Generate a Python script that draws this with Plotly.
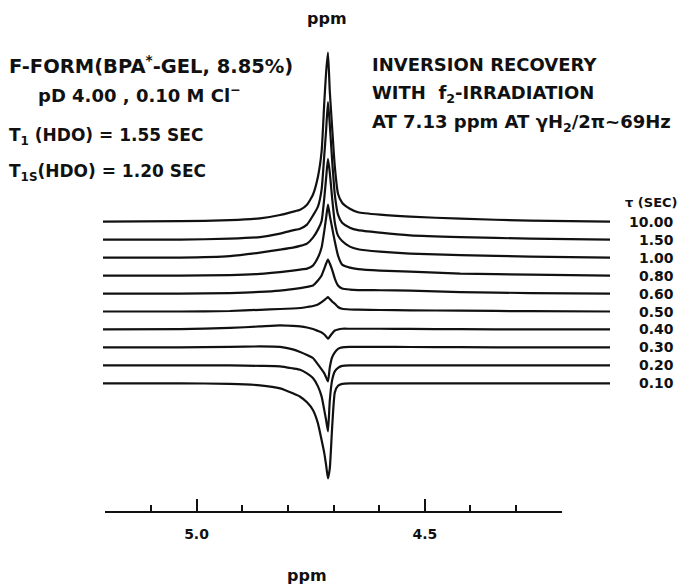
import plotly.graph_objects as go

W, H = 681, 587

# ---------------- data ----------------
tau_labels = ["10.00", "1.50", "1.00", "0.80", "0.60", "0.50", "0.40", "0.30", "0.20", "0.10"]

# chemical shift sample positions (ppm)
ppm = [5.204, 5.035, 4.926, 4.860, 4.816, 4.788, 4.772, 4.757, 4.744, 4.733,
       4.725, 4.719, 4.715, 4.711, 4.707, 4.702, 4.696, 4.689, 4.680, 4.663,
       4.645, 4.597, 4.531, 4.421, 4.268, 4.093]

# signal intensity (arbitrary units) for each tau
int_10_00 = [0, 0.5, 1.5, 3.4, 6.7, 10, 12, 17, 27, 45, 70, 120, 150, 169, 130, 95, 55, 28, 19, 13, 9.5, 7, 5, 3, 1, 0]
int_1_50 = [0, 0, 1, 2.6, 6, 9.3, 11, 15, 24, 33, 50, 85, 110, 137.6, 115, 80, 45, 25, 17, 12, 9.5, 7, 4.3, 2.5, 1, 0]
int_1_00 = [0, 0, 1.5, 5, 8, 10, 11.7, 14, 20, 28, 36.7, 60, 80, 98.7, 85, 60, 35, 22, 16.7, 11, 8.4, 6, 4, 2.5, 1, 0]
int_0_80 = [0, 0, 0.5, 1.7, 3.5, 5, 6, 7, 10, 18, 28, 45, 58, 71, 60, 48, 34, 20, 11, 8, 6.5, 5, 4, 2, 1, 0]
int_0_60 = [0, 0, 0.5, 1.6, 3, 4.5, 5.5, 6.6, 8, 13, 18, 25, 30, 34, 30, 24, 15, 8, 5, 4, 3.5, 3.3, 3, 1.5, 0.5, 0]
int_0_50 = [0, 0, 0.5, 1.7, 2.5, 3, 3.5, 4.5, 5.5, 7, 9.3, 11.5, 13, 14.3, 12.5, 10, 7.7, 4.5, 2.7, 2, 1.8, 1.5, 1.2, 0.8, 0.3, 0]
int_0_40 = [0, 0.3, 1.5, 3, 4, 3.5, 3, 2, 0.5, -1.5, -3, -5, -7, -9.3, -7, -4, -1, 0, 0.7, 0.7, 0.7, 0.7, 0.5, 0.3, 0, 0]
int_0_30 = [0, 0, 0.5, 1, 0.5, -2, -4.5, -7.5, -10.6, -17, -22, -26, -30, -34, -20, -10, -5, -1.5, 0, 0.5, 0.5, 0.5, 0.4, 0.2, 0, 0]
int_0_20 = [0, 0, 0, -0.5, -1, -3, -4.3, -8, -12.6, -21, -31, -45, -55, -66, -35, -15, -6, -2.5, -0.5, 0, 0, 0, 0, 0, 0, 0]
int_0_10 = [0, 0, -0.5, -2, -5, -10, -13.4, -19, -26.7, -40, -56.7, -70, -82, -95, -85, -45, -9, -2.5, -0.5, 0, 0, 0, 0, 0, 0, 0]

intensities = [int_10_00, int_1_50, int_1_00, int_0_80, int_0_60,
               int_0_50, int_0_40, int_0_30, int_0_20, int_0_10]

ruler_range = [5.2, 4.2]
ruler_major = [5.0, 4.5]
ruler_minor = [5.2, 5.1, 4.9, 4.8, 4.7, 4.6, 4.4, 4.3, 4.2]

# ---------------- layout helpers ----------------
def px_x(x):
    return x / W

def px_y(y):
    return 1 - y / H

TOP_BASE = 221.7      # pixel row of the first baseline
SPACING = 17.96       # vertical stacking distance between spectra
INK = "#111111"
FONT = "DejaVu Sans"

fig = go.Figure()

for i, (lab, vals) in enumerate(zip(tau_labels, intensities)):
    base = -(TOP_BASE + i * SPACING)
    fig.add_trace(go.Scatter(
        x=ppm, y=[base + v for v in vals], mode="lines",
        line=dict(color=INK, width=2.2, shape="spline", smoothing=0.5),
        name=lab, showlegend=False, hoverinfo="skip"))

# invisible trace to bind the ruler axis
fig.add_trace(go.Scatter(x=ruler_range, y=[None, None], xaxis="x2", yaxis="y",
                         mode="lines", showlegend=False, hoverinfo="skip"))

fig.update_layout(
    width=W, height=H, margin=dict(l=0, r=0, t=0, b=0),
    paper_bgcolor="white", plot_bgcolor="rgba(0,0,0,0)",
    xaxis=dict(domain=[px_x(103), px_x(610)], range=[5.204, 4.093],
               visible=False, showgrid=False, zeroline=False),
    yaxis=dict(domain=[px_y(495), px_y(40)], range=[-495, -40],
               visible=False, showgrid=False, zeroline=False),
    xaxis2=dict(domain=[px_x(105), px_x(562)], range=[5.2005, 4.1995],
                anchor="free", position=px_y(512),
                showline=True, linecolor=INK, linewidth=2,
                showgrid=False, zeroline=False,
                tickmode="array", tickvals=ruler_major,
                ticktext=[f"{v:.1f}" for v in ruler_major],
                ticks="inside", ticklen=12, tickwidth=2, tickcolor=INK,
                ticklabelstandoff=9,
                tickfont=dict(family=FONT, size=14, color=INK, weight="bold"),
                minor=dict(tickmode="array", tickvals=ruler_minor,
                           ticks="inside", ticklen=6, tickwidth=2, tickcolor=INK)),
)

ann = []

def text(x, y, s, size, anchor="left"):
    ann.append(dict(x=px_x(x), y=px_y(y), xref="paper", yref="paper", text=s,
                    showarrow=False, xanchor=anchor, yanchor="middle",
                    font=dict(family=FONT, size=size, color=INK, weight="bold")))

text(327, 18, "ppm", 16, "center")
text(307, 575, "ppm", 16, "center")

text(7, 65, "F-FORM(BPA<sup>*</sup>-GEL, 8.85%)", 19.5)
text(36, 94, "pD 4.00 , 0.10 M Cl<sup>−</sup>", 18)
text(7, 137, "T<sub>1</sub> (HDO) = 1.55 SEC", 17)
text(7, 172, "T<sub>1S</sub>(HDO) = 1.20 SEC", 17)

text(370, 65, "INVERSION RECOVERY", 18)
text(370, 94, "WITH  f<sub>2</sub>-IRRADIATION", 18)
text(370, 123, "AT 7.13 ppm AT γH<sub>2</sub>/2π~69Hz", 18)

text(680, 203, "τ (SEC)", 13, "right")
for i, lab in enumerate(tau_labels):
    text(676, TOP_BASE + i * SPACING, lab, 14, "right")

fig.update_layout(annotations=ann)

fig.write_html("out.html")
